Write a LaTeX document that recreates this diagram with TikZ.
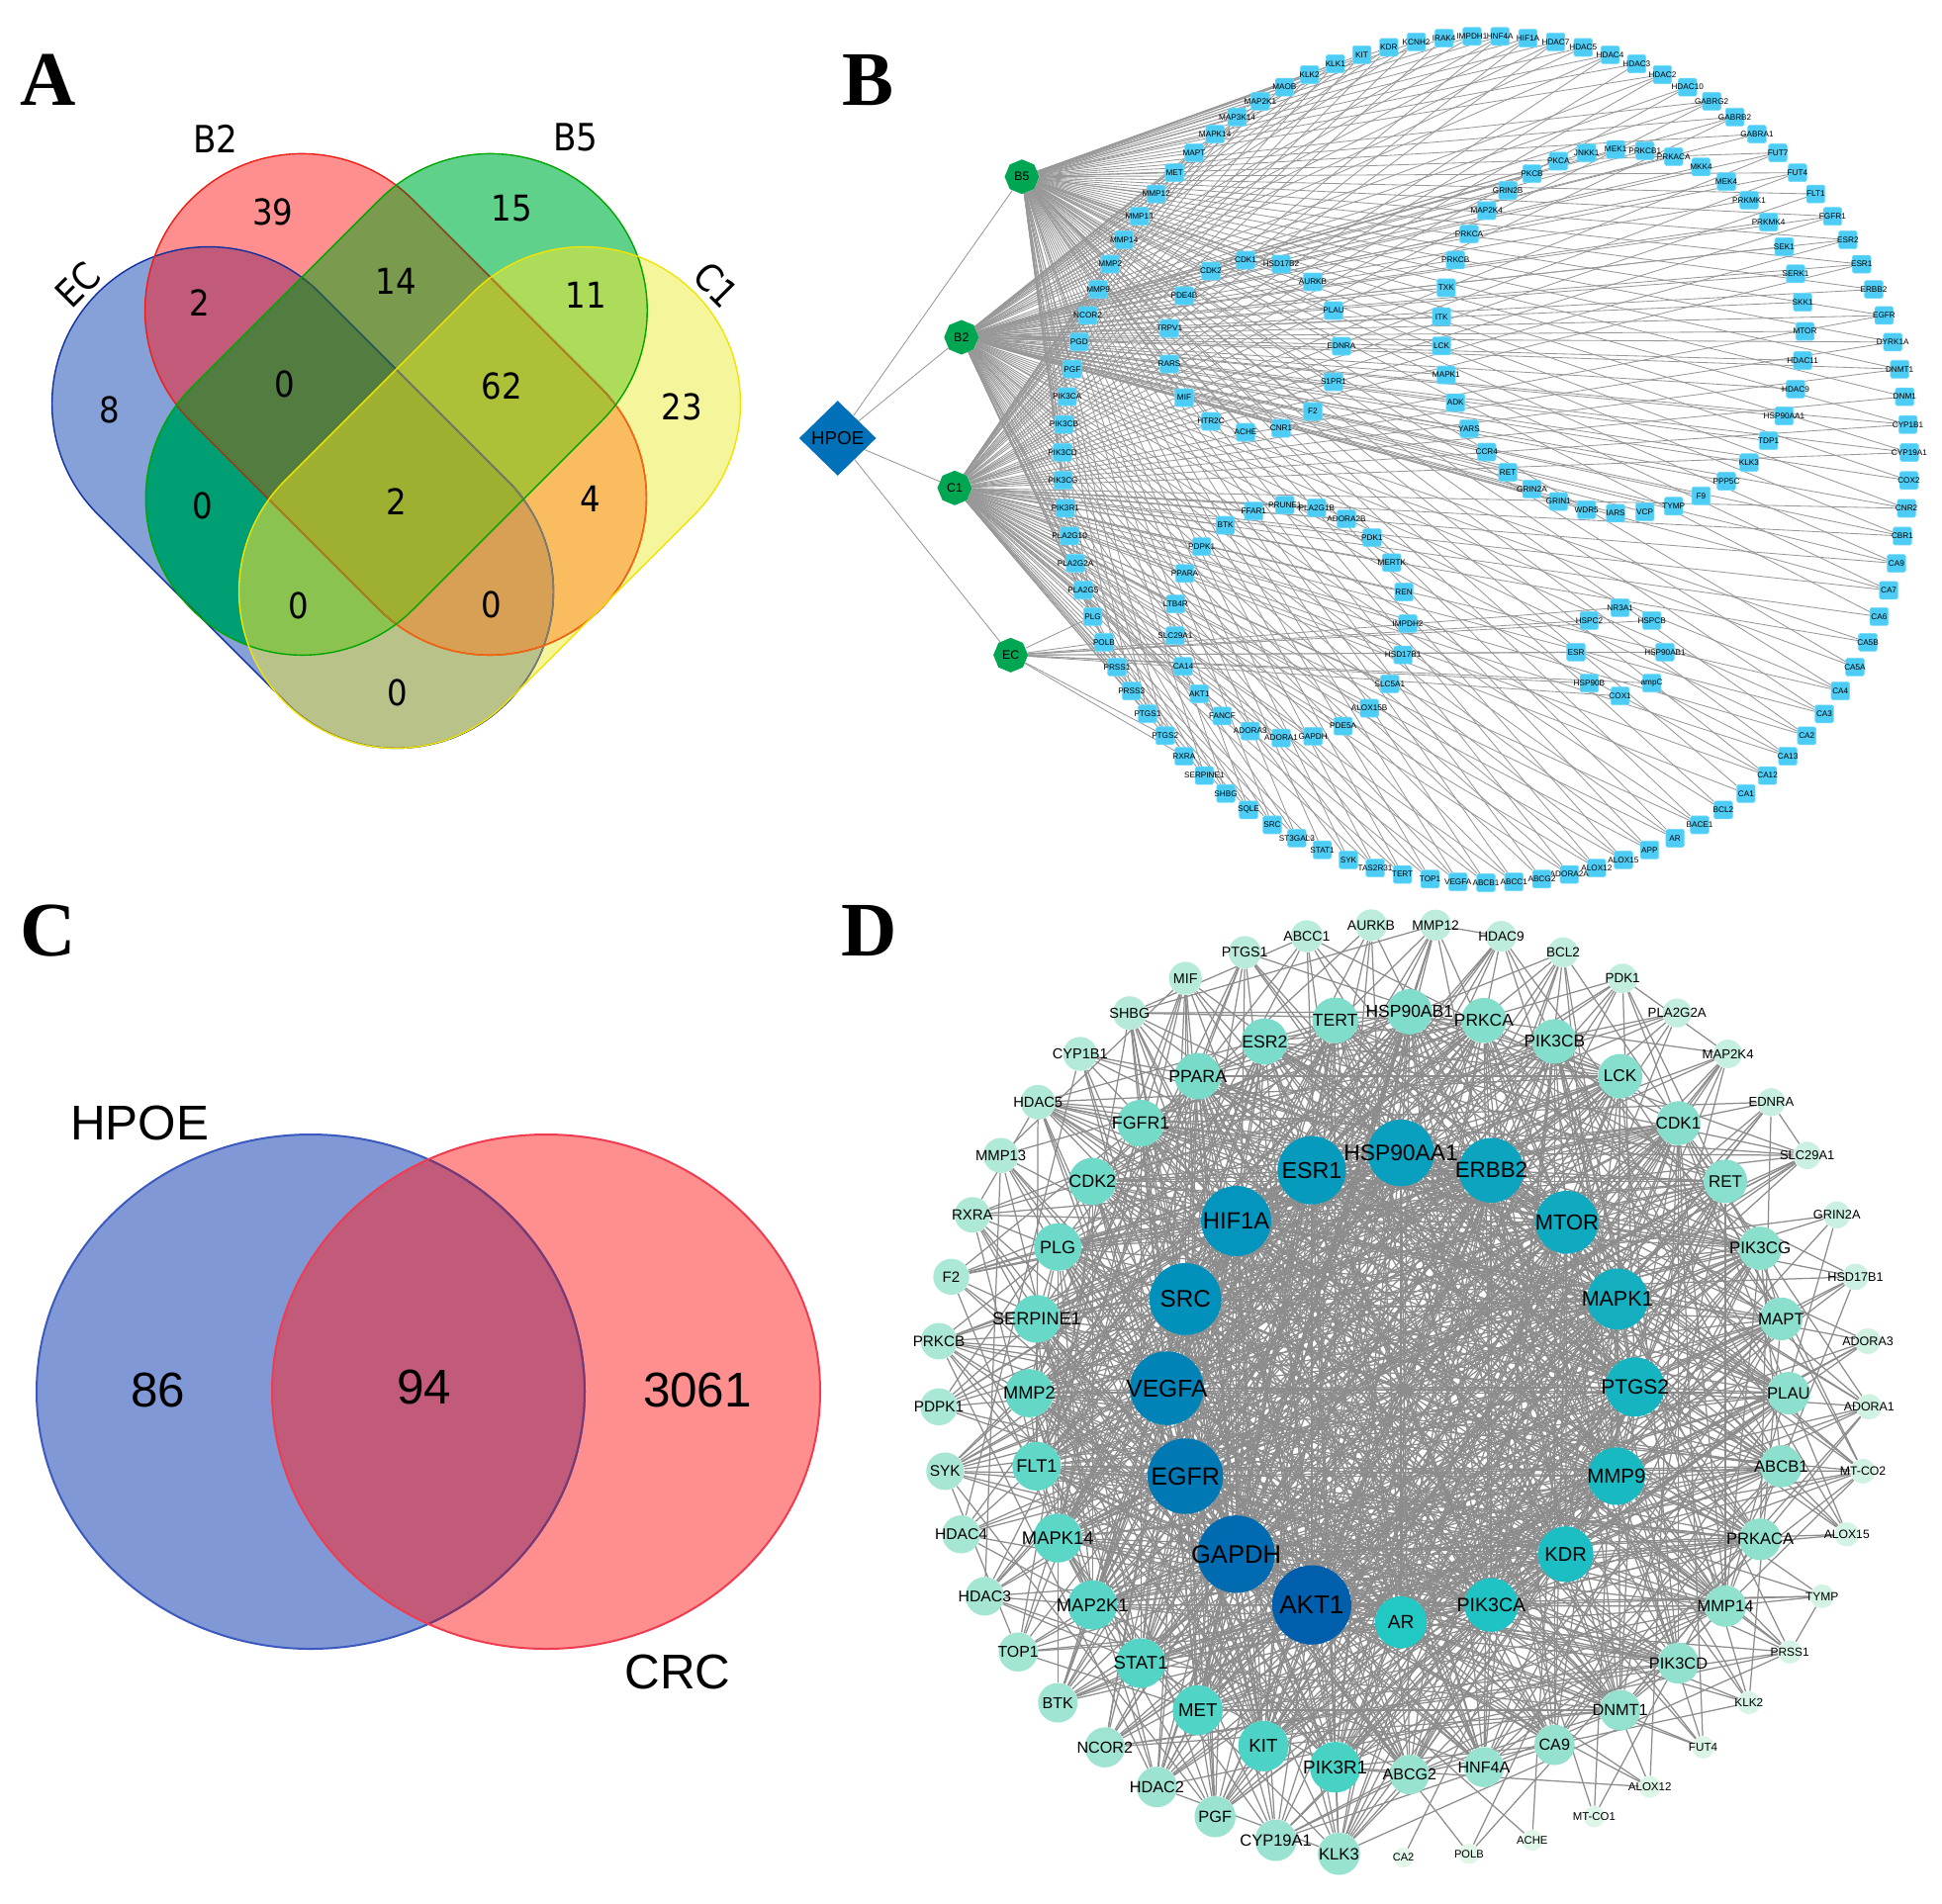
\documentclass[tikz,border=0pt]{standalone}
\usepackage{fontspec}
\setmainfont{Liberation Sans}
\newfontfamily\panelfont{Liberation Serif}
\newfontfamily\vennfont[FakeStretch=0.9]{DejaVu Sans}
\usetikzlibrary{backgrounds,shapes.geometric,calc}
\definecolor{vE}{HTML}{86A0D8}\definecolor{vB}{HTML}{FF8E8E}\definecolor{vG}{HTML}{5FD18A}\definecolor{vC}{HTML}{F5F59B}
\definecolor{vEB}{HTML}{C25A7A}\definecolor{vBG}{HTML}{7A9A4E}\definecolor{vGC}{HTML}{ADDC5A}\definecolor{vEG}{HTML}{009F73}
\definecolor{vEC}{HTML}{B9C389}\definecolor{vBC}{HTML}{F9BC5E}
\definecolor{vEBG}{HTML}{527C40}\definecolor{vBGC}{HTML}{AEC038}\definecolor{vEGC}{HTML}{8AC34F}\definecolor{vEBC}{HTML}{D8A055}
\definecolor{vALL}{HTML}{9FB030}
\definecolor{sEC}{HTML}{1030A0}\definecolor{sB2}{HTML}{EE1E14}\definecolor{sB5}{HTML}{00A500}\definecolor{sC1}{HTML}{F0E400}
\definecolor{sEg}{HTML}{2F5F45}\definecolor{sEy}{HTML}{7E8068}\definecolor{sBg}{HTML}{75501E}\definecolor{sBy}{HTML}{F06A10}\definecolor{sBgy}{HTML}{A88A20}
\definecolor{hub}{HTML}{00A651}\definecolor{hpoe}{HTML}{0070B8}\definecolor{tgt}{HTML}{4DCDF5}\definecolor{tgtb}{HTML}{70DCFB}
\definecolor{bedge}{HTML}{989898}\definecolor{dedge}{HTML}{8C8C8C}
\definecolor{cB}{HTML}{8099D6}\definecolor{cR}{HTML}{FF8E8E}\definecolor{cO}{HTML}{C25A7A}
\definecolor{dA}{HTML}{005FAD}\definecolor{dB}{HTML}{0090BC}\definecolor{dC}{HTML}{22C8C4}\definecolor{dD}{HTML}{48D2C4}\definecolor{dM}{HTML}{80DDCB}\definecolor{dE}{HTML}{98E2D0}\definecolor{dF}{HTML}{E2F7E9}
\tikzset{
 ecS/.style={rotate around={-45:(306,503)},rounded corners=79.25pt},
 c1S/.style={rotate around={45:(495,503)},rounded corners=79.25pt},
 b2S/.style={rotate around={-45:(400,408.85)},rounded corners=79.25pt},
 b5S/.style={rotate around={45:(400.75,408.85)},rounded corners=79.25pt},
 vln/.style={line width=.7pt},
 vnum/.style={font=\vennfont\fontsize{18}{20}\selectfont,inner sep=0pt},
 vlab/.style={font=\vennfont\fontsize{19}{21}\selectfont,inner sep=0pt},
 plet/.style={font=\panelfont\bfseries\fontsize{39}{40}\selectfont,inner sep=0pt},
 clab/.style={font=\fontsize{24.7}{26}\selectfont,inner sep=0pt},
 bn/.style={rectangle,rounded corners=0.8pt,minimum width=9.3pt,minimum height=9pt,inner sep=0pt,fill=tgt,draw=tgtb,line width=.3pt},
 bl/.style={font=\fontsize{4.1}{4.2}\selectfont,text=black,inner sep=0pt},
 hubn/.style={regular polygon,regular polygon sides=8,shape border rotate=22.5,minimum size=17.5pt,inner sep=0pt,fill=hub,font=\fontsize{6.2}{7}\selectfont},
 hpoen/.style={diamond,aspect=1,minimum width=39pt,minimum height=38pt,inner sep=0pt,fill=hpoe,font=\fontsize{9.4}{10}\selectfont},
 bedg/.style={draw=bedge,line width=.42pt},
 dn/.style={circle,inner sep=0pt,draw=none},
 dedg/.style={draw=dedge,line width=.62pt},
}
\newcommand\clE{\clip[ecS] (13.2,344.5) rectangle (598.8,661.5);}
\newcommand\clC{\clip[c1S] (202.2,344.5) rectangle (787.8,661.5);}
\newcommand\clB{\clip[b2S] (107.2,250.35) rectangle (692.8,567.35);}
\newcommand\clG{\clip[b5S] (107.95,250.35) rectangle (693.55,567.35);}
\newcommand\reg[2]{\begin{scope}#1\fill[#2] (0,100) rectangle (800,800);\end{scope}}
\newcommand\stE[1]{\draw[ecS,vln,draw=#1] (13.2,344.5) rectangle (598.8,661.5);}
\newcommand\stB[1]{\draw[b2S,vln,draw=#1] (107.2,250.35) rectangle (692.8,567.35);}
\begin{document}
\begin{tikzpicture}[x=0.5pt,y=-0.5pt]
\useasboundingbox (0,0) rectangle (1963,1924);
\begin{pgfonlayer}{background}\fill[white] (0,0) rectangle (1963,1924);\end{pgfonlayer}
% ---------- Panel letters
\node[plet] (lA) at (49,81) {A};
\node[plet] (lB) at (877,81) {B};
\node[plet] (lC) at (49,941) {C};
\node[plet] (lD) at (879,941) {D};
% ---------- Panel A
\reg{\clE}{vE}\reg{\clB}{vB}\reg{\clG}{vG}\reg{\clC}{vC}
\reg{\clE\clB}{vEB}\reg{\clB\clG}{vBG}\reg{\clG\clC}{vGC}\reg{\clE\clG}{vEG}\reg{\clE\clC}{vEC}\reg{\clB\clC}{vBC}
\reg{\clE\clB\clG}{vEBG}\reg{\clB\clG\clC}{vBGC}\reg{\clE\clG\clC}{vEGC}\reg{\clE\clB\clC}{vEBC}
\reg{\clE\clB\clG\clC}{vALL}
\stE{sEC}\stB{sB2}
\begin{scope}\clC\stE{sEy}\stB{sBy}\end{scope}
\begin{scope}\clG\stE{sEg}\stB{sBg}\end{scope}
\begin{scope}\clG\clC\stB{sBgy}\stE{sEy}\end{scope}
\draw[b5S,vln,draw=sB5] (107.95,250.35) rectangle (693.55,567.35);
\draw[c1S,vln,draw=sC1] (202.2,344.5) rectangle (787.8,661.5);
\foreach \v/\x/\y [count=\n] in {8/110.5/414.5,39/276/214.5,15/517/210.6,2/201.5/305.7,14/400.5/284.4,11/592/298.4,0/287.6/388,62/507.5/390,23/689/411,0/205/511.5,2/400.5/506.7,4/597/504.8,0/302/612.5,0/496.5/611,0/402/700}
  \node[vnum] (an\n) at (\x,\y) {\v};
\node[vlab,rotate=45] (aEC) at (79,288) {EC};
\node[vlab,rotate=-45] (aC1) at (724,288) {C1};
\node[vlab] (aB2) at (218,140) {B2};
\node[vlab] (aB5) at (582,139) {B5};
% ---------- Panel B
\node[hubn] (hB5) at (1033,178.7) {B5};
\node[hubn] (hB2) at (971.8,341) {B2};
\node[hubn] (hC1) at (965,493.3) {C1};
\node[hubn] (hEC) at (1021.6,662.3) {EC};
\node[hpoen] (hp) at (846.7,443) {HPOE};
\begin{pgfonlayer}{background}
\foreach \h in {hB5,hB2,hC1,hEC}{\draw[bedg] (hp) -- (\h);}
\end{pgfonlayer}
% outer ring (95)
\foreach \nm [count=\i from 0] in {HNF4A,HIF1A,HDAC7,HDAC5,HDAC4,HDAC3,HDAC2,HDAC10,GABRG2,GABRB2,GABRA1,FUT7,FUT4,FLT1,FGFR1,ESR2,ESR1,ERBB2,EGFR,DYRK1A,DNMT1,DNM1,CYP1B1,CYP19A1,COX2,CNR2,CBR1,CA9,CA7,CA6,CA5B,CA5A,CA4,CA3,CA2,CA13,CA12,CA1,BCL2,BACE1,AR,APP,ALOX15,ALOX12,ADORA2A,ABCG2,ABCC1,ABCB1,VEGFA,TOP1,TERT,TAS2R31,SYK,STAT1,ST3GAL3,SRC,SQLE,SHBG,SERPINE1,RXRA,PTGS2,PTGS1,PRSS3,PRSS1,POLB,PLG,PLA2G5,PLA2G2A,PLA2G10,PIK3R1,PIK3CG,PIK3CD,PIK3CB,PIK3CA,PGF,PGD,NCOR2,MMP9,MMP2,MMP14,MMP13,MMP12,MET,MAPT,MAPK14,MAP3K14,MAP2K1,MAOB,KLK2,KLK1,KIT,KDR,KCNH2,IRAK4,IMPDH1}{
  \pgfmathsetmacro\t{1.9+\i*3.78947}
  \node[bn,label={[bl]center:\nm}] (o\i) at ({1502+428*sin(\t)},{464.5-428*cos(\t)}) {};
}
% ring B2-only (39)
\foreach \nm [count=\i from 0] in {MEK1,PRKCB1,PRKACA,MKK4,MEK4,PRKMK1,PRKMK4,SEK1,SERK1,SKK1,MTOR,HDAC11,HDAC9,HSP90AA1,TDP1,KLK3,PPP5C,F9,TYMP,VCP,IARS,WDR5,GRIN1,GRIN2A,RET,CCR4,YARS,ADK,MAPK1,LCK,ITK,TXK,PRKCB,PRKCA,MAP2K4,GRIN2B,PKCB,PKCA,JNKK1}{
  \pgfmathsetmacro\t{-2.3+\i*9.23077}
  \node[bn,label={[bl]center:\nm}] (p\i) at ({1640.5+184*sin(\t)},{335-184*cos(\t)}) {};
}
% ring B5-only (15)
\foreach \nm/\x/\y [count=\i from 0] in {CDK1/1259/263,HSD17B2/1295/267,AURKB/1327/285,PLAU/1348/314,EDNRA/1356/350,S1PR1/1348/386,F2/1327/416,CNR1/1295/433,ACHE/1259/437,HTR2C/1224/426,MIF/1197/402,RARS/1182/368,TRPV1/1182/332,PDE4B/1197/299,CDK2/1224/274}{
  \node[bn,label={[bl]center:\nm}] (q\i) at (\x,\y) {};
}
% ring C1-only (23)
\foreach \nm [count=\i from 0] in {PRUNE1,PLA2G1B,ADORA2B,PDK1,MERTK,REN,IMPDH2,HSD17B1,SLC5A1,ALOX15B,PDE5A,GAPDH,ADORA1,ADORA3,FANCF,AKT1,CA14,SLC29A1,LTB4R,PPARA,PDPK1,BTK,FFAR1}{
  \pgfmathsetmacro\t{-3+\i*15.65217}
  \node[bn,label={[bl]center:\nm}] (s\i) at ({1305+118*sin(\t)},{628.5-118*cos(\t)}) {};
}
% ring EC-only (8)
\foreach \nm/\x/\y [count=\i from 0] in {NR3A1/1637.6/614.3,HSPCB/1669.6/627.3,HSP90AB1/1683/659.3,ampC/1669.6/690.7,COX1/1637.6/703.7,HSP90B/1606.4/690.7,ESR/1593/659.3,HSPC2/1606.4/627.3}{
  \node[bn,label={[bl]center:\nm}] (u\i) at (\x,\y) {};
}
\begin{pgfonlayer}{background}
\foreach \i in {0,...,38}{\draw[bedg] (hB2) -- (p\i);}
\foreach \i in {0,...,14}{\draw[bedg] (hB5) -- (q\i);}
\foreach \i in {0,...,22}{\draw[bedg] (hC1) -- (s\i);}
\foreach \i in {0,...,7}{\draw[bedg] (hEC) -- (u\i);}
\foreach \i in {0,...,94}{
  \pgfmathtruncatemacro\ms{mod(\i,7)}
  \pgfmathtruncatemacro\me{mod(\i,8)}
  \pgfmathtruncatemacro\mt{mod(\i,23)}
  \pgfmathtruncatemacro\tp{(\i==60||\i==65)?0:((\i==59||\i==64)?4:(\ms==3?1:(\me==5?2:(\mt==7?3:0))))}
  \pgfmathtruncatemacro\fe{(\i==60||\i==65||\i==59||\i==64)?1:0}
  \ifnum\tp=2\else\draw[bedg] (hB2) -- (o\i);\fi
  \ifnum\tp=3\else\ifnum\tp=4\else\draw[bedg] (hB5) -- (o\i);\fi\fi
  \ifnum\tp=1\else\ifnum\tp=4\else\draw[bedg] (hC1) -- (o\i);\fi\fi
  \ifnum\fe=1\draw[bedg] (hEC) -- (o\i);\fi
}
\end{pgfonlayer}
% ---------- Panel C
\fill[cB] (314,1407) ellipse [x radius=277,y radius=260];
\fill[cR] (552,1407) ellipse [x radius=277,y radius=260];
\begin{scope}\clip (314,1407) ellipse [x radius=277,y radius=260];
\fill[cO] (552,1407) ellipse [x radius=277,y radius=260];\end{scope}
\draw[draw={rgb,255:red,60;green,90;blue,190},line width=1pt] (314,1407) ellipse [x radius=277,y radius=260];
\begin{scope}\clip (552,1407) ellipse [x radius=277,y radius=260];
\draw[draw={rgb,255:red,125;green,55;blue,110},line width=1pt] (314,1407) ellipse [x radius=277,y radius=260];\end{scope}
\draw[draw={rgb,255:red,240;green,60;blue,80},line width=1pt] (552,1407) ellipse [x radius=277,y radius=260];
\node[clab] (cH) at (141,1135) {HPOE};
\node[clab] (c86) at (160,1405) {86};
\node[clab] (c94) at (429,1402) {94};
\node[clab] (c3061) at (705,1405) {3061};
\node[clab] (cC) at (685,1690) {CRC};
% ---------- Panel D
\begin{scope}[x=0.626pt,y=-0.626pt]
\foreach \nm/\x/\y [count=\k from 0] in {AKT1/1059/1296,GAPDH/998/1255,EGFR/957/1192,VEGFA/942/1121,SRC/957/1049,HIF1A/998/986,ESR1/1059/945,HSP90AA1/1131/931,ERBB2/1204/945,MTOR/1265/987,MAPK1/1306/1049,PTGS2/1320/1120,MMP9/1305/1192,KDR/1264/1255,PIK3CA/1204/1296,AR/1131/1310,
PIK3R1/1078/1427,KIT/1020/1410,MET/967/1381,STAT1/921/1343,MAP2K1/882/1296,MAPK14/854/1242,FLT1/837/1184,MMP2/831/1125,SERPINE1/837/1065,PLG/854/1007,CDK2/882/954,FGFR1/921/907,PPARA/967/869,ESR2/1021/841,TERT/1078/824,HSP90AB1/1138/817,PRKCA/1198/824,PIK3CB/1255/841,LCK/1308/869,CDK1/1355/907,RET/1393/954,PIK3CG/1421/1008,MAPT/1438/1065,PLAU/1444/1125,ABCB1/1438/1184,PRKACA/1421/1243,MMP14/1393/1297,PIK3CD/1355/1343,DNMT1/1308/1381,CA9/1255/1409,HNF4A/1198/1427,ABCG2/1138/1433,
KLK3/1081/1497,CYP19A1/1030/1486,PGF/981/1467,HDAC2/934/1443,NCOR2/892/1411,BTK/854/1375,TOP1/822/1334,HDAC3/795/1289,HDAC4/776/1239,SYK/763/1188,PDPK1/758/1136,PRKCB/758/1083,F2/768/1031,RXRA/785/981,MMP13/808/933,HDAC5/838/890,CYP1B1/872/851,SHBG/912/818,MIF/957/790,PTGS1/1005/769,ABCC1/1055/756,AURKB/1107/747,MMP12/1159/747,HDAC9/1212/756,BCL2/1262/769,PDK1/1310/790,PLA2G2A/1354/818,MAP2K4/1395/851,EDNRA/1430/890,SLC29A1/1459/933,GRIN2A/1483/981,HSD17B1/1498/1031,ADORA3/1508/1083,ADORA1/1509/1136,MT-CO2/1504/1188,ALOX15/1491/1239,TYMP/1471/1289,PRSS1/1445/1334,KLK2/1412/1375,FUT4/1375/1411,ALOX12/1332/1443,MT-CO1/1287/1467,ACHE/1237/1486,POLB/1186/1497,CA2/1133/1500}{
  \pgfmathsetmacro\rov{\k<16?32-11*\k/15:(\k<48?20.5-4.5*(\k-16)/31:17-9*(\k-48)/44)}
  \pgfmathsetmacro\dgv{\k<16?72-2*\k:(\k<48?34-14*(\k-16)/31:13-9*(\k-48)/44)}
  \expandafter\xdef\csname dg\k\endcsname{\dgv}
  \ifnum\k<4\pgfmathsetmacro\pc{100*\k/4}\colorlet{dc}{dB!\pc!dA}\else
  \ifnum\k<16\pgfmathsetmacro\pc{100*(\k-4)/11}\colorlet{dc}{dC!\pc!dB}\else
  \ifnum\k<30\pgfmathsetmacro\pc{100*(\k-16)/14}\colorlet{dc}{dM!\pc!dD}\else
  \ifnum\k<48\pgfmathsetmacro\pc{100*(\k-30)/17}\colorlet{dc}{dE!\pc!dM}\else
  \pgfmathsetmacro\pc{100*(\k-48)/44}\colorlet{dc}{dF!\pc!dE}\fi\fi\fi\fi
  \pgfmathsetmacro\ds{2*\rov*0.626}
  \pgfmathsetmacro\fs{3+0.313*\rov}
  \node[dn,fill=dc,minimum size=\ds pt,label={[inner sep=0pt,text=black,font=\fontsize{\fs}{\fs}\selectfont]center:\nm}] (d\k) at (\x,\y) {};
}
\pgfmathsetseed{2024}
\begin{pgfonlayer}{background}
\foreach \i in {0,...,91}{
  \pgfmathtruncatemacro\js{\i+1}
  \foreach \j in {\js,...,92}{
    \pgfmathsetmacro\rv{rnd*1800}
    \pgfmathsetmacro\pr{\csname dg\i\endcsname*\csname dg\j\endcsname}
    \ifdim\rv pt<\pr pt\relax\draw[dedg] (d\i) -- (d\j);\fi
  }
}
\end{pgfonlayer}
\end{scope}
\end{tikzpicture}
\end{document}
